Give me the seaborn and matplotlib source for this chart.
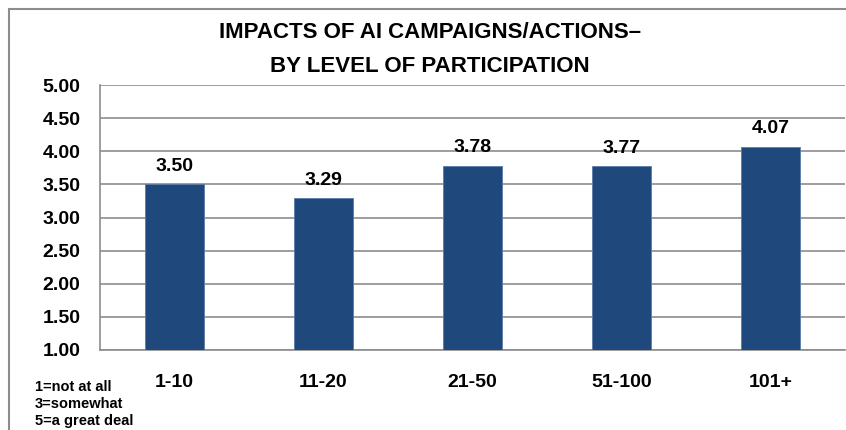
import matplotlib
matplotlib.use("Agg")
import matplotlib.pyplot as plt
import seaborn as sns
import pandas as pd
from matplotlib.patches import Rectangle

categories = ["1-10", "11-20", "21-50", "51-100", "101+"]
values = [3.50, 3.29, 3.78, 3.77, 4.07]
yticks = [1.00, 1.50, 2.00, 2.50, 3.00, 3.50, 4.00, 4.50, 5.00]
title_lines = ["IMPACTS OF AI CAMPAIGNS/ACTIONS–", "BY LEVEL OF PARTICIPATION"]
scale_note = ["1=not at all", "3=somewhat", "5=a great deal"]

sns.set_style("white")
plt.rcParams['font.family'] = ['Liberation Sans', 'DejaVu Sans']
plt.rcParams['text.color'] = 'black'
plt.rcParams['xtick.color'] = 'black'
plt.rcParams['ytick.color'] = 'black'

df = pd.DataFrame({"cat": categories, "val": values})

W, H = 846, 430
fig = plt.figure(figsize=(W / 100, H / 100), dpi=100)
ax = fig.add_axes([100 / W, 1 - 350 / H, 745 / W, 265 / H])

sns.barplot(data=df, x="cat", y="val", color="#1F497D", saturation=1, width=0.4,
            edgecolor="#5B7BAA", linewidth=0.6, ax=ax, zorder=3)

ax.set_ylim(1.0, 5.0)
ax.set_yticks(yticks)
ax.set_yticklabels([f"{v:.2f}" for v in yticks], fontsize=14, fontweight="bold")
ax.set_xticklabels(categories, fontsize=14, fontweight="bold")
ax.set_xlabel("")
ax.set_ylabel("")
ax.grid(axis="y", color="#8C8C8C", linewidth=1.2, zorder=0)
ax.set_axisbelow(True)
for s in ["top", "right"]:
    ax.spines[s].set_visible(False)
for s in ["left", "bottom"]:
    ax.spines[s].set_color("#8C8C8C")
    ax.spines[s].set_linewidth(1.2)
ax.tick_params(axis="y", length=4, color="#8C8C8C", labelcolor="black", width=1.2, pad=10)
ax.tick_params(axis="x", length=0, pad=17, labelcolor="black")
ax.set_xticks([i + 0.5 for i in range(-1, len(categories))], minor=True)
ax.tick_params(axis="x", which="minor", length=4, color="#8C8C8C", width=1.2, direction="out")

for i, v in enumerate(values):
    ax.annotate(f"{v:.2f}", (i, v), xytext=(0, 7), textcoords="offset points",
                ha="center", va="bottom", fontsize=14, fontweight="bold", color="black")

for j, t in enumerate(title_lines):
    fig.text(0.5 + 7 / W, 1 - (33 + 33 * j) / H, t, ha="center", va="center",
             fontsize=16, fontweight="bold", color="black",
             family=["Liberation Sans Narrow", "Liberation Sans", "DejaVu Sans"])

for j, t in enumerate(scale_note):
    fig.text(35 / W, 1 - (387 + 17 * j) / H, t, ha="left", va="center",
             fontsize=10.5, fontweight="bold", color="black")

fig.patches.append(Rectangle((9 / W, -0.1), 1.2, 1 - 9 / H + 0.1, transform=fig.transFigure,
                             fill=False, edgecolor="#8C8C8C", linewidth=1.5))

fig.savefig("out.png", dpi=100)
